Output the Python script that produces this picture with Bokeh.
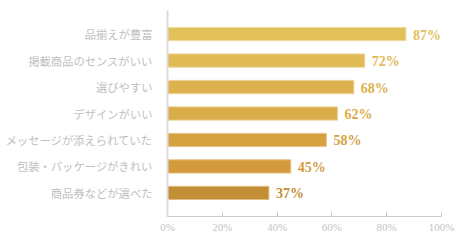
from bokeh.plotting import figure
from bokeh.models import ColumnDataSource, FixedTicker, PrintfTickFormatter, Range1d
from bokeh.core.properties import value
from bokeh.embed import file_html
from bokeh.resources import INLINE

categories = ["品揃えが豊富", "掲載商品のセンスがいい", "選びやすい", "デザインがいい",
              "メッセージが添えられていた", "包装・パッケージがきれい", "商品券などが選べた"]
values = [87, 72, 68, 62, 58, 45, 37]
colors = ["#E2C15A", "#E0BB55", "#DDB24E", "#DBAC4A", "#D5A241", "#D39B3D", "#C28E36"]
edge_colors = ["#F0DB9C", "#EED698", "#EDD094", "#ECCC90", "#E9C68A", "#E8C288", "#DDBC84"]
x_ticks = [0, 20, 40, 60, 80, 100]

n = len(categories)
ypos = [n - 1 - i for i in range(n)]
src = ColumnDataSource(dict(
    y=ypos, v=values, c=colors, e=edge_colors,
    lab=[f"{v}%" for v in values],
))

p = figure(width=464, height=240, output_backend="svg", toolbar_location=None,
           x_range=Range1d(0, 100), y_range=Range1d(-0.89, n - 1 + 0.89),
           min_border_left=167, min_border_right=23, min_border_top=10, min_border_bottom=24)
p.outline_line_color = None
p.xgrid.visible = False
p.ygrid.visible = False
p.background_fill_color = "white"
p.border_fill_color = "white"

p.hbar(y="y", left=0, right="v", height=0.5, fill_color="c", line_color="e",
       line_width=1, source=src)
p.text(x="v", y="y", text="lab", text_color="c", text_font=value("Liberation Serif"),
       text_font_style="bold", text_font_size="14px", text_baseline="middle",
       text_align="left", x_offset=7, y_offset=1, source=src)

xa = p.xaxis[0]
xa.ticker = FixedTicker(ticks=x_ticks)
xa.formatter = PrintfTickFormatter(format="%d%%")
xa.axis_line_color = "#cccccc"
xa.axis_line_width = 1
xa.major_tick_line_color = "#cccccc"
xa.major_tick_in = 5
xa.major_tick_out = 0
xa.minor_tick_line_color = None
xa.major_label_text_font = "Liberation Serif"
xa.major_label_text_font_size = "11px"
xa.major_label_text_color = "#c4c4c4"
xa.major_label_standoff = 4

ya = p.yaxis[0]
ya.ticker = FixedTicker(ticks=ypos)
ya.major_label_overrides = {yy: c for yy, c in zip(ypos, categories)}
ya.axis_line_color = "#dddddd"
ya.axis_line_width = 2
ya.major_tick_line_color = None
ya.minor_tick_line_color = None
ya.major_label_text_font = "Noto Sans CJK JP"
ya.major_label_text_font_size = "11.3px"
ya.major_label_text_color = "#c0c0c0"
ya.major_label_standoff = 9

open("out.html", "w").write(file_html(p, INLINE))
